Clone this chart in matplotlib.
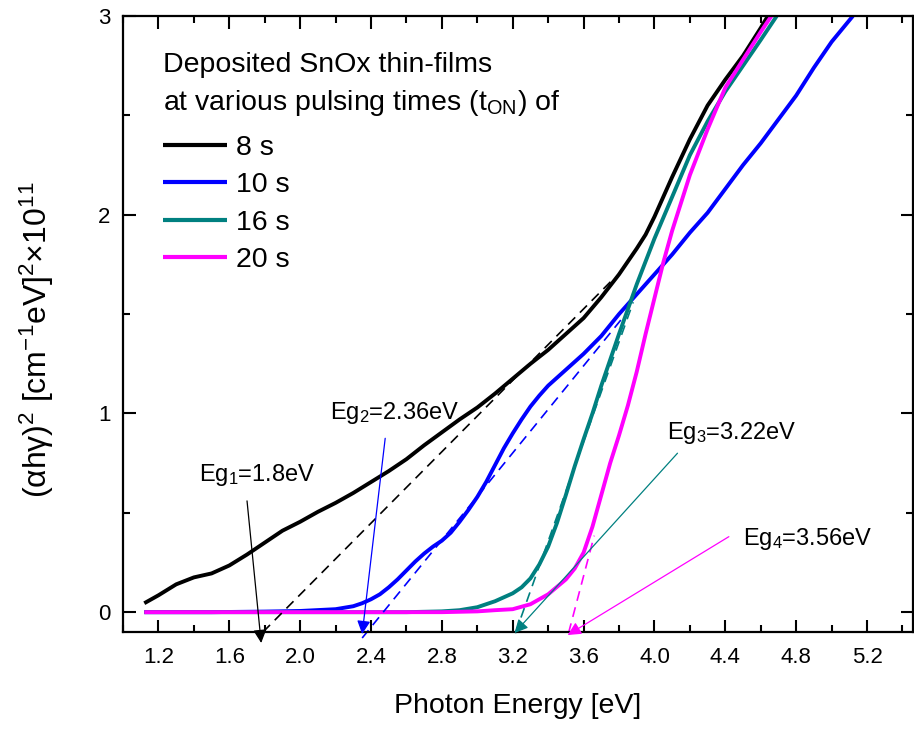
import numpy as np
import matplotlib.pyplot as plt
from matplotlib.ticker import MultipleLocator

plt.rcParams['font.family'] = ['Liberation Sans', 'DejaVu Sans']
plt.rcParams['mathtext.fontset'] = 'custom'
plt.rcParams['mathtext.rm'] = 'Liberation Sans'
plt.rcParams['mathtext.it'] = 'Liberation Sans'

# (alpha h nu)^2 curves, x1e11
e_8s = [1.12, 1.2, 1.3, 1.4, 1.5, 1.6, 1.7, 1.8, 1.9, 2.0, 2.1, 2.2, 2.3, 2.4, 2.5,
        2.6, 2.7, 2.8, 2.9, 3.0, 3.1, 3.2, 3.3, 3.4, 3.5, 3.6, 3.7, 3.8, 3.9, 3.95,
        4.0, 4.05, 4.1, 4.2, 4.3, 4.4, 4.5, 4.6, 4.64]
y_8s = [0.045, 0.085, 0.14, 0.175, 0.195, 0.235, 0.29, 0.35, 0.41, 0.455, 0.505, 0.55,
        0.60, 0.655, 0.71, 0.77, 0.84, 0.905, 0.97, 1.03, 1.10, 1.175, 1.25, 1.32, 1.40,
        1.48, 1.585, 1.70, 1.83, 1.90, 1.99, 2.09, 2.19, 2.38, 2.55, 2.68, 2.80, 2.94, 3.0]

e_10s = [1.12, 1.5, 1.8, 2.0, 2.2, 2.3, 2.35, 2.4, 2.45, 2.5, 2.55, 2.6, 2.65, 2.7,
         2.75, 2.8, 2.85, 2.9, 2.95, 3.0, 3.05, 3.1, 3.15, 3.2, 3.25, 3.3, 3.35, 3.4,
         3.45, 3.5, 3.6, 3.7, 3.8, 3.9, 4.0, 4.1, 4.2, 4.3, 4.4, 4.5, 4.6, 4.7, 4.8,
         4.9, 5.0, 5.12]
y_10s = [0.0, 0.0, 0.003, 0.006, 0.015, 0.03, 0.045, 0.065, 0.09, 0.125, 0.165, 0.21,
         0.255, 0.295, 0.33, 0.36, 0.40, 0.455, 0.515, 0.58, 0.655, 0.74, 0.825, 0.90,
         0.97, 1.035, 1.09, 1.14, 1.18, 1.22, 1.30, 1.39, 1.50, 1.60, 1.70, 1.80, 1.91,
         2.01, 2.13, 2.25, 2.36, 2.48, 2.60, 2.74, 2.87, 3.0]

e_16s = [1.12, 2.6, 2.8, 2.9, 3.0, 3.1, 3.2, 3.25, 3.3, 3.35, 3.4, 3.45, 3.5, 3.55,
         3.6, 3.65, 3.7, 3.75, 3.8, 3.9, 4.0, 4.1, 4.2, 4.3, 4.4, 4.5, 4.6, 4.69]
y_16s = [0.0, 0.0, 0.004, 0.01, 0.025, 0.055, 0.095, 0.125, 0.17, 0.24, 0.33, 0.45,
         0.59, 0.735, 0.87, 1.00, 1.14, 1.27, 1.40, 1.65, 1.88, 2.09, 2.30, 2.47, 2.62,
         2.75, 2.88, 3.0]

e_20s = [1.12, 2.8, 3.0, 3.1, 3.2, 3.3, 3.4, 3.5, 3.55, 3.6, 3.65, 3.7, 3.75, 3.8,
         3.85, 3.9, 3.95, 4.0, 4.05, 4.1, 4.2, 4.3, 4.4, 4.5, 4.6, 4.66]
y_20s = [0.0, 0.0, 0.004, 0.01, 0.015, 0.04, 0.09, 0.165, 0.22, 0.30, 0.43, 0.59,
         0.75, 0.89, 1.04, 1.21, 1.40, 1.58, 1.76, 1.92, 2.20, 2.43, 2.64, 2.78, 2.92,
         3.0]

labels = ['8 s', '10 s', '16 s', '20 s']
colors = ['black', '#0000ff', '#008080', '#ff00ff']

# linear fits (start/end points of the dashed tangents)
fit_x = [[1.79, 3.76], [2.35, 3.81], [3.215, 3.88], [3.515, 3.66]]
fit_y = [[-0.10, 1.67], [-0.13, 1.47], [-0.106, 1.56], [-0.105, 0.385]]

gap_labels = ['Eg$_1$=1.8eV', 'Eg$_2$=2.36eV', 'Eg$_3$=3.22eV', 'Eg$_4$=3.56eV']
title_lines = ['Deposited SnOx thin-films', 'at various pulsing times (t$_{ON}$) of']

fig = plt.figure(figsize=(9.14, 7.29), dpi=100)
ax = fig.add_axes([0.1346, 0.133, 0.8644, 0.845])

curves = [(e_8s, y_8s), (e_10s, y_10s), (e_16s, y_16s), (e_20s, y_20s)]
for (e, y), lab, c in zip(curves, labels, colors):
    ax.plot(e, y, color=c, lw=2.8, label=lab, solid_capstyle='butt')

for fx, fy, c in zip(fit_x, fit_y, colors):
    ax.plot(fx, fy, color=c, lw=1.2, ls=(0, (6, 4)), clip_on=False)

# arrows pointing to band gaps
arrows = [((1.70, 0.56), (1.78, -0.155)),
          ((2.48, 0.875), (2.35, -0.11)),
          ((4.13, 0.80), (3.21, -0.105)),
          ((4.42, 0.38), (3.51, -0.115))]
for (start, tip), c in zip(arrows, colors):
    ax.annotate('', xy=tip, xytext=start, annotation_clip=False,
                arrowprops=dict(arrowstyle='-|>', color=c, lw=0.9,
                                mutation_scale=20, shrinkA=0, shrinkB=0))

text_pos = [(1.43, 0.69), (2.17, 1.00), (4.07, 0.90), (4.50, 0.37)]
for (tx, ty), t in zip(text_pos, gap_labels):
    ax.text(tx, ty, t, fontsize=17, ha='left', va='center')

ax.set_xlim(1.0, 5.46)
ax.set_ylim(-0.1, 3.0)
ax.xaxis.set_minor_locator(MultipleLocator(0.2))
ax.set_xticks(np.arange(1.2, 5.3, 0.4))
ax.set_xticklabels(['%.1f' % v for v in np.arange(1.2, 5.3, 0.4)])
ax.yaxis.set_major_locator(MultipleLocator(1))
ax.yaxis.set_minor_locator(MultipleLocator(0.5))

ax.tick_params(which='both', direction='in', top=True, right=True, width=1.5,
               labelsize=16)
ax.tick_params(which='major', length=9)
ax.tick_params(which='minor', length=5)
ax.tick_params(axis='x', pad=11)
ax.tick_params(axis='y', pad=9)
for s in ax.spines.values():
    s.set_linewidth(1.6)

ax.set_xlabel('Photon Energy [eV]', fontsize=20.5, labelpad=18)
ax.set_ylabel('(\u03b1h\u03b3)$^2$ [cm$^{-1}$eV]$^2$\u00d710$^{11}$', fontsize=23)
ax.yaxis.set_label_coords(-0.085, 0.474)

# legend heading, then the legend entries
for yt, t in zip([0.909, 0.847], title_lines):
    ax.text(0.0506, yt, t, transform=ax.transAxes, fontsize=20.5,
            ha='left', va='baseline')

leg = ax.legend(loc='upper left', bbox_to_anchor=(0.0506, 0.807), frameon=False,
                fontsize=20.5, handlelength=2.25, handletextpad=0.3,
                labelspacing=0.40, borderpad=0, borderaxespad=0)
for line in leg.get_lines():
    line.set_linewidth(3)

fig.savefig('out.png', dpi=100)
